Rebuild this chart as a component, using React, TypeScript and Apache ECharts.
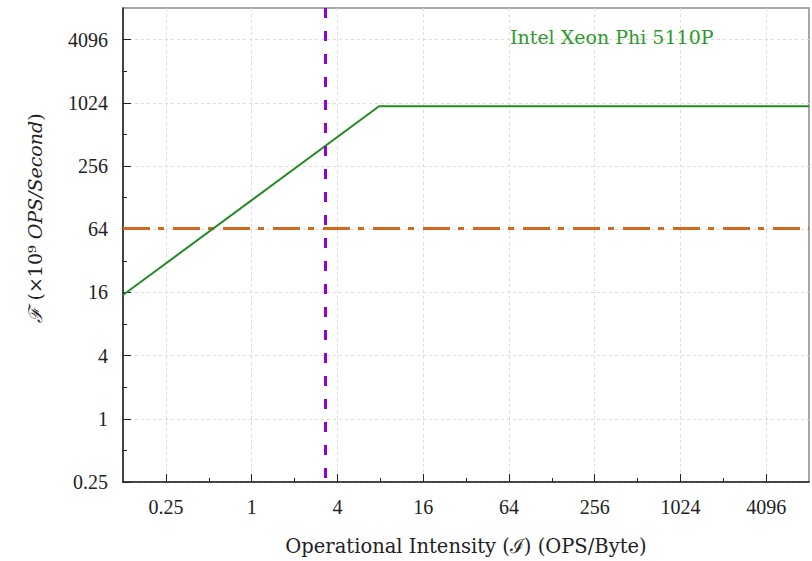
import React, { useEffect, useRef } from "react";
import * as echarts from "echarts";

// Roofline (compute / memory bound) for the device
const rooflineIntensity = [0.125, 7.85, 8192];
const rooflinePerf = [15.1, 950, 950];
// Vertical dashed marker (operational intensity of a kernel)
const markerIntensity = [3.3, 3.3];
const markerPerf = [8192, 0.25];
// Horizontal dash-dot limit
const limitIntensity = [0.125, 8192];
const limitPerf = [65, 65];

// Axis ranges / ticks in log2 units
const xLog2Min = -3;
const xLog2Max = 13;
const xMajorExps = [-2, 0, 2, 4, 6, 8, 10, 12];
const xMinorExps = [-1, 1, 3, 5, 7, 9, 11];
const yLog2Min = -2;
const yLog2Max = 13;
const yMajorExps = [-2, 0, 2, 4, 6, 8, 10, 12];
const yMinorExps = [-1, 1, 3, 5, 7, 9, 11];

const deviceName = "Intel Xeon Phi 5110P";
const xAxisTitle = "Operational Intensity (ℐ) (OPS/Byte)";

const FONT = "'Liberation Serif', 'DejaVu Serif', serif";
const TFONT = "'DejaVu Serif', 'Liberation Serif', serif";
const INK = "#222222";

const log2 = (v: number) => Math.log2(v);
const pairs = (xs: number[], ys: number[]) => xs.map((x, i) => [log2(x), log2(ys[i])]);

const fmt = (v: number) => {
  const r = Math.round(v * 1000) / 1000;
  return String(Math.pow(2, r));
};

export default function App() {
  const ref = useRef<HTMLDivElement>(null);
  useEffect(() => {
    if (!ref.current) return;
    const chart = echarts.init(ref.current, undefined, { renderer: "svg" });
    const majorAxis = (min: number, max: number, exps: number[], margin: number) => ({
      type: "value",
      min,
      max,
      axisLine: { show: true, onZero: false, lineStyle: { color: INK, width: 1.5 } },
      axisTick: {
        show: true,
        inside: true,
        length: 8,
        customValues: exps,
        lineStyle: { color: INK, width: 1 },
      },
      axisLabel: {
        formatter: fmt,
        customValues: exps,
        color: INK,
        fontFamily: FONT,
        fontSize: 20,
        margin,
      },
      splitLine: { show: true, lineStyle: { color: "#dcdcdc", type: [3, 3], width: 1 } },
    });
    const minorAxis = (min: number, max: number, exps: number[], position: string) => ({
      type: "value",
      min,
      max,
      position,
      axisLine: { show: false, onZero: false },
      axisTick: {
        show: true,
        inside: true,
        length: 4,
        customValues: exps,
        lineStyle: { color: INK, width: 1 },
      },
      axisLabel: { show: false },
      splitLine: { show: false },
    });
    const option: any = {
      animation: false,
      backgroundColor: "#ffffff",
      grid: {
        left: 123,
        top: 8,
        right: 3,
        bottom: 76,
        show: true,
        borderColor: "#8a8a8a",
        borderWidth: 1.5,
      },
      xAxis: [
        {
          ...majorAxis(xLog2Min, xLog2Max, xMajorExps, 15),
          position: "bottom",
          name: xAxisTitle,
          nameLocation: "middle",
          nameGap: 54,
          nameTextStyle: { color: INK, fontFamily: TFONT, fontSize: 19.5 },
        },
        minorAxis(xLog2Min, xLog2Max, xMinorExps, "bottom"),
      ],
      yAxis: [
        { ...majorAxis(yLog2Min, yLog2Max, yMajorExps, 15), position: "left" },
        minorAxis(yLog2Min, yLog2Max, yMinorExps, "left"),
      ],
      series: [
        {
          type: "line",
          data: pairs(limitIntensity, limitPerf),
          showSymbol: false,
          lineStyle: { color: "#d2691e", width: 3, type: [27, 8, 6, 9] },
          z: 3,
        },
        {
          type: "line",
          data: pairs(rooflineIntensity, rooflinePerf),
          showSymbol: false,
          lineStyle: { color: "#228b22", width: 2 },
          z: 4,
        },
        {
          type: "line",
          data: pairs(markerIntensity, markerPerf),
          showSymbol: false,
          lineStyle: { color: "#9400d3", width: 3, type: [10, 13] },
          z: 5,
        },
      ],
      graphic: [
        {
          type: "text",
          left: 510,
          top: 27,
          style: {
            text: deviceName,
            fill: "#2e9a2e",
            font: `19px ${TFONT}`,
          },
          z: 10,
        },
        {
          type: "text",
          x: 35,
          y: 218,
          rotation: Math.PI / 2,
          style: {
            text: "{f|ℱ} (×10⁹ {i|OPS/Second})",
            fill: INK,
            font: `19px ${TFONT}`,
            align: "center",
            verticalAlign: "middle",
            rich: {
              f: { fontFamily: TFONT, fontSize: 19, fontStyle: "italic", fill: INK },
              i: { fontFamily: TFONT, fontSize: 19, fontStyle: "italic", fill: INK },
            },
          },
          z: 10,
        },
      ],
    };
    chart.setOption(option);
    return () => chart.dispose();
  }, []);
  return (
    <div
      ref={ref}
      style={{ position: "fixed", left: 0, top: 0, width: 812, height: 561, background: "#fff" }}
    />
  );
}
